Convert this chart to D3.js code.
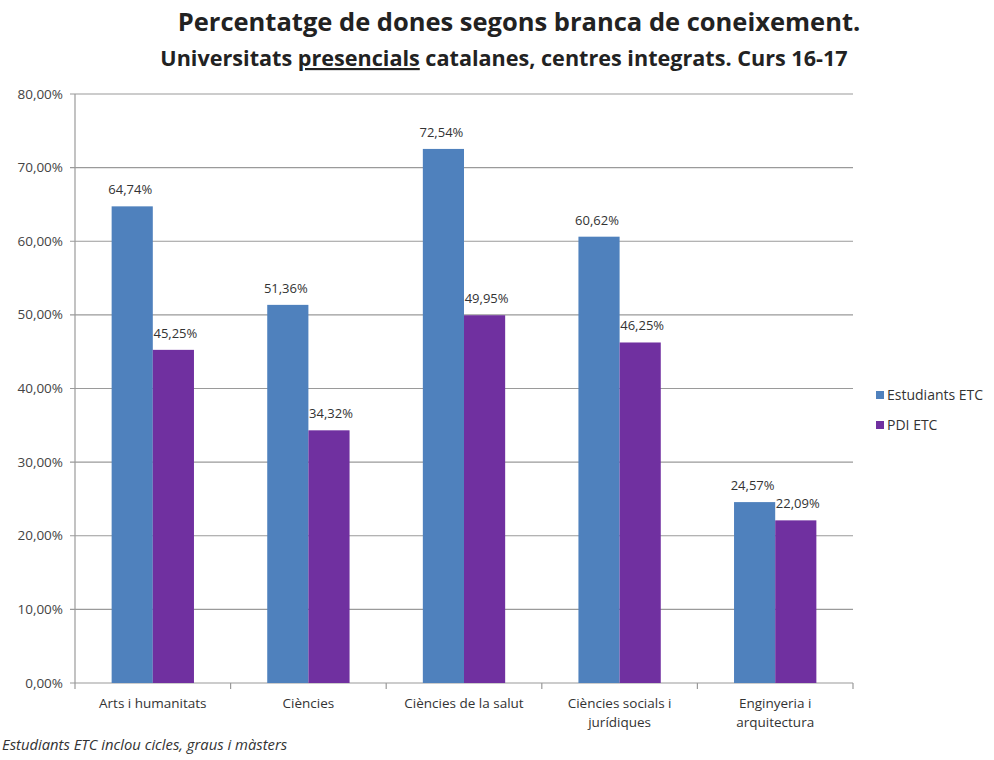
<!DOCTYPE html>
<html><head><meta charset="utf-8">
<script src="https://cdn.jsdelivr.net/npm/d3@7"></script>
<style>body{margin:0;background:#fff;} text{font-family:"Open Sans",Lato,sans-serif;}</style>
</head><body><svg id="c" width="994" height="760"></svg>
<script>
const categories = [["Arts i humanitats"],["Ciències"],["Ciències de la salut"],["Ciències socials i","jurídiques"],["Enginyeria i","arquitectura"]];
const seriesNames = ["Estudiants ETC","PDI ETC"];
const estudiants = [64.74, 51.36, 72.54, 60.62, 24.57];
const pdi = [45.25, 34.32, 49.95, 46.25, 22.09];
const yTicks = [0,10,20,30,40,50,60,70,80];
const colors = ["#4F81BD","#7030A0"];

const svg = d3.select("#c");
const m = {l:75, r:853, t:94, b:683};
const x = d3.scaleBand().domain(d3.range(categories.length)).range([m.l, m.r]).paddingInner(0).paddingOuter(0);
const x1 = d3.scaleBand().domain([0,1]).range([0, x.bandwidth()]).paddingOuter(1.78/2).paddingInner(0);
const y = d3.scaleLinear().domain([0,80]).range([m.b, m.t]);
const fmt = v => v.toFixed(2).replace(".", ",") + "%";

// grid
svg.append("g").selectAll("line").data(yTicks).join("line")
  .attr("x1", m.l-5).attr("x2", m.r).attr("y1", d=>y(d)).attr("y2", d=>y(d))
  .attr("stroke", "#9a9a9a").attr("stroke-width", 1.2);
// y axis line
svg.append("line").attr("x1", m.l).attr("x2", m.l).attr("y1", m.t).attr("y2", m.b).attr("stroke","#9a9a9a").attr("stroke-width", 1.2);
// y labels
svg.append("g").selectAll("text").data(yTicks).join("text")
  .attr("x", m.l-12).attr("y", d=>y(d)+4.5).attr("text-anchor","end")
  .attr("font-size", 13.5).attr("fill","#444").text(d=>d.toFixed(2).replace(".", ",")+"%");
// x tick marks
svg.append("g").selectAll("line").data(d3.range(categories.length+1)).join("line")
  .attr("x1", i=> i<categories.length ? x(i) : m.r).attr("x2", i=> i<categories.length ? x(i) : m.r)
  .attr("y1", m.b).attr("y2", m.b+6).attr("stroke","#9a9a9a").attr("stroke-width", 1.2);

const series = [estudiants, pdi];
series.forEach((vals, s) => {
  const g = svg.append("g");
  g.selectAll("rect").data(vals).join("rect")
    .attr("x", (d,i)=> x(i)+x1(s)).attr("width", x1.bandwidth())
    .attr("y", d=>y(d)).attr("height", d=> y(0)-y(d)).attr("fill", colors[s]);
  g.selectAll("text").data(vals).join("text")
    .attr("x", (d,i)=> x(i)+x1(s)+x1.bandwidth()/2 + (s===1?2:-2)).attr("y", d=>y(d)-12)
    .attr("text-anchor","middle").attr("font-size",13).attr("fill","#333").text(fmt);
});

// category labels
categories.forEach((lines, i) => {
  const t = svg.append("text").attr("x", x(i)+x.bandwidth()/2).attr("y", 708)
    .attr("text-anchor","middle").attr("font-size",13.5).attr("fill","#333");
  lines.forEach((ln, k) => t.append("tspan").attr("x", x(i)+x.bandwidth()/2).attr("dy", k===0?0:19).text(ln));
});

// legend
seriesNames.forEach((n, s) => {
  svg.append("rect").attr("x", 876).attr("y", 391 + s*30).attr("width", 8).attr("height", 8).attr("fill", colors[s]);
  svg.append("text").attr("x", 887).attr("y", 400 + s*30).attr("font-size", 14).attr("fill","#333").text(n);
});

// titles
svg.append("text").attr("x", 519).attr("y", 31).attr("text-anchor","middle")
  .attr("font-size", 25.5).attr("font-weight","bold").attr("fill","#222")
  .text("Percentatge de dones segons branca de coneixement.");
const st = svg.append("text").attr("x", 504).attr("y", 66).attr("text-anchor","middle")
  .attr("font-size", 21.6).attr("font-weight","bold").attr("fill","#222");
st.append("tspan").text("Universitats ");
st.append("tspan").attr("text-decoration","underline").text("presencials");
st.append("tspan").text(" catalanes, centres integrats. Curs 16-17");

// footnote
svg.append("text").attr("x", 2).attr("y", 750).attr("font-size", 14.8).attr("font-style","italic").attr("fill","#333")
  .text("Estudiants ETC inclou cicles, graus i màsters");
</script></body></html>
